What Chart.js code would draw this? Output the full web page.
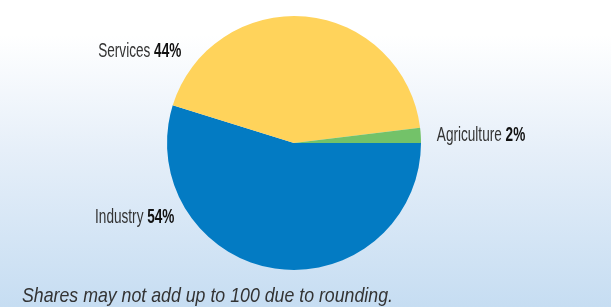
<!DOCTYPE html>
<html>
<head>
<meta charset="utf-8">
<script src="https://cdn.jsdelivr.net/npm/chart.js@4/dist/chart.umd.min.js"></script>
<style>
  html, body { margin: 0; padding: 0; }
  body {
    width: 611px; height: 307px; overflow: hidden; position: relative;
    background: linear-gradient(to bottom, #ffffff 0px, #ffffff 35px, #e6eff9 150px, #c6ddf2 307px);
  }
  #wrap { position: absolute; left: 0; top: 0; width: 611px; height: 307px; }
  #note {
    position: absolute; left: 22px; top: 283px;
    font-family: 'Liberation Sans', 'DejaVu Sans', sans-serif;
    font-style: italic; font-size: 21px; color: #333; white-space: nowrap;
    transform: scaleX(0.845); transform-origin: left top;
  }
</style>
</head>
<body>
<div id="wrap"><canvas id="pie-chart" width="611" height="307"></canvas></div>
<div id="note">Shares may not add up to 100 due to rounding.</div>
<script>
var sectors = ['Industry', 'Services', 'Agriculture'];
var shares = [54.8, 43.3, 1.9];
var shareLabels = ['54%', '44%', '2%'];
var sectorColors = ['#037BC3', '#FFD35B', '#73C269'];

// where each label sits: angle (deg, clockwise from east), gap past the rim, text alignment
var labelPlace = [
    { angle: 148, gap: 14, align: 'right' },
    { angle: 219, gap: 18, align: 'right' },
    { angle: -3, gap: 16, align: 'left' }
];
var squeeze = 0.68; // condensed look

var pieLabels = {
    id: 'pieLabels',
    afterDraw: function(chart) {
        var ctx = chart.ctx;
        var arc = chart.getDatasetMeta(0).data[0];
        var cx = arc.x, cy = arc.y, r = arc.outerRadius;
        var nameFont = '20px "Liberation Sans", "DejaVu Sans", sans-serif';
        var pctFont = 'bold 20px "Liberation Sans", "DejaVu Sans", sans-serif';
        ctx.save();
        ctx.textBaseline = 'middle';
        ctx.textAlign = 'left';
        for (var i = 0; i < sectors.length; i++) {
            var p = labelPlace[i];
            var a = p.angle * Math.PI / 180;
            var x = cx + (r + p.gap) * Math.cos(a);
            var y = cy + (r + p.gap) * Math.sin(a);
            ctx.font = nameFont;
            var w1 = ctx.measureText(sectors[i] + ' ').width;
            ctx.font = pctFont;
            var w2 = ctx.measureText(shareLabels[i]).width;
            var x0 = p.align === 'right' ? x - (w1 + w2) * squeeze : x;
            ctx.save();
            ctx.translate(x0, y);
            ctx.scale(squeeze, 1);
            ctx.font = nameFont;
            ctx.fillStyle = '#333333';
            ctx.fillText(sectors[i] + ' ', 0, 0);
            ctx.font = pctFont;
            ctx.fillStyle = '#111111';
            ctx.fillText(shareLabels[i], w1, 0);
            ctx.restore();
        }
        ctx.restore();
    }
};

var pieCanvas = document.getElementById('pie-chart').getContext('2d');
var pieChart = new Chart(pieCanvas, {
    type: 'pie',
    data: {
        labels: sectors,
        datasets: [{
            data: shares,
            backgroundColor: sectorColors,
            borderWidth: 0
        }]
    },
    options: {
        responsive: false,
        animation: false,
        rotation: 90,
        layout: { padding: { top: 16, bottom: 37, left: 140, right: 163 } },
        plugins: {
            legend: { display: false },
            tooltip: { enabled: false }
        }
    },
    plugins: [pieLabels]
});
</script>
</body>
</html>
